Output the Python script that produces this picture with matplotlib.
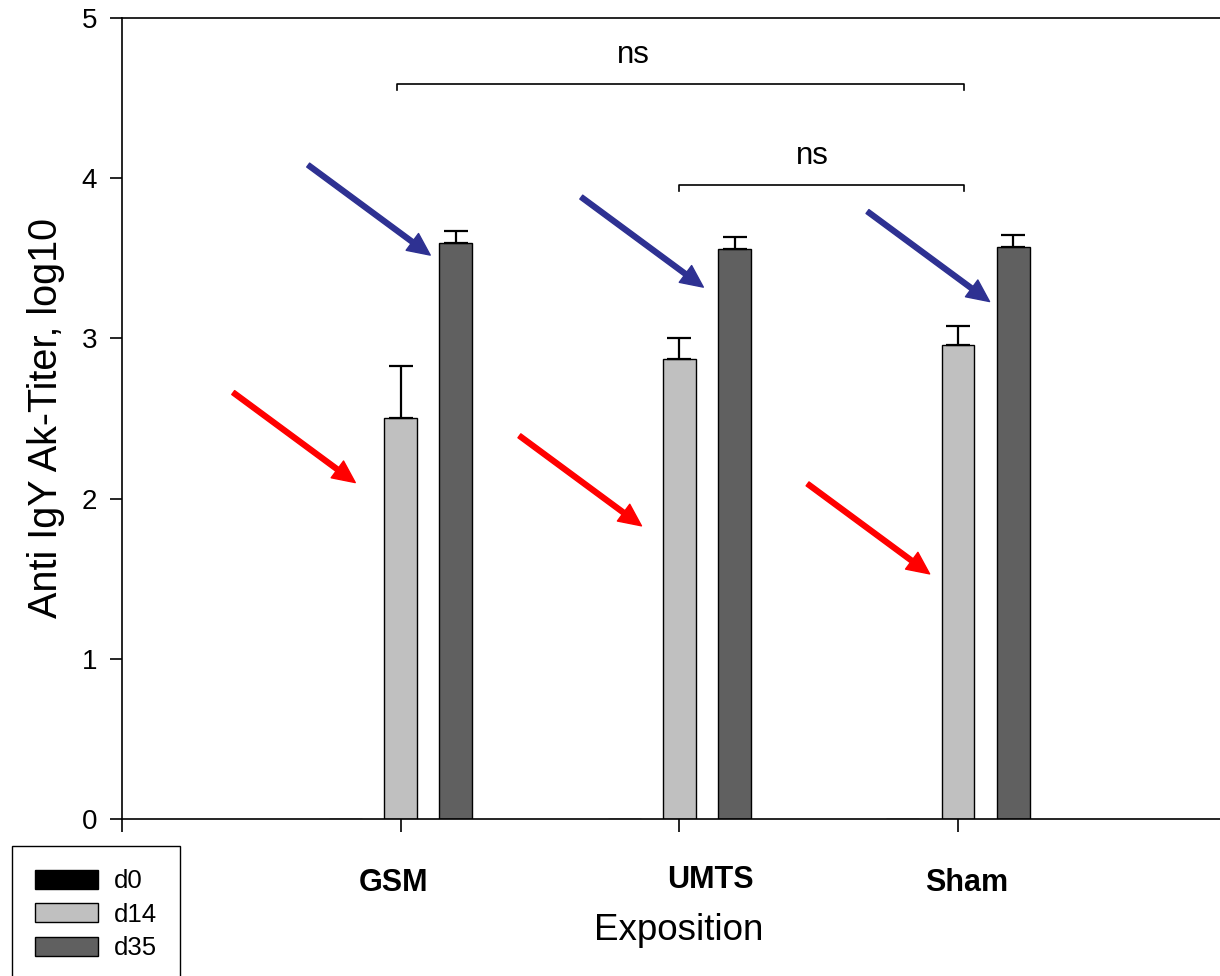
import numpy as np
import matplotlib
matplotlib.use("Agg")
import matplotlib.pyplot as plt
import matplotlib.transforms as mtransforms
from matplotlib.patches import Patch

plt.rcParams['font.family'] = ['Liberation Sans', 'DejaVu Sans']

groups = ['GSM', 'UMTS', 'Sham']
series = ['d0', 'd14', 'd35']
d0 = [0.0, 0.0, 0.0]
d14 = [2.50, 2.87, 2.96]
d14_err = [0.33, 0.13, 0.12]
d35 = [3.595, 3.555, 3.57]
d35_err = [0.075, 0.075, 0.075]

# arrow tips (x, y) in data units
blue_tips = [(1.106, 3.52), (2.086, 3.32), (3.113, 3.23)]
red_tips = [(0.837, 2.10), (1.864, 1.83), (2.898, 1.53)]

fig = plt.figure(figsize=(12.2, 9.76), dpi=100)
ax = fig.add_axes([122/1220, (976-819)/976, (1220-122)/1220, (819-18)/976])

x = np.arange(1, len(groups)+1)
w = 0.118
off = 0.198
ekw = dict(elinewidth=1.6, capsize=8.5, capthick=1.6, ecolor='black')
ax.bar(x - off, d0, w, color='black', edgecolor='black', lw=1.0)
ax.bar(x, d14, w, color='#c0c0c0', edgecolor='black', lw=1.0)
ax.errorbar(x, d14, yerr=[np.zeros(3), d14_err], fmt='none', **ekw)
ax.bar(x + off, d35, w, color='#606060', edgecolor='black', lw=1.0)
ax.errorbar(x + off, d35, yerr=[np.zeros(3), d35_err], fmt='none', **ekw)

# arrows
for tips, c in [(blue_tips, '#2e3192'), (red_tips, '#ff0000')]:
    for tx, ty in tips:
        ax.annotate('', xy=(tx, ty), xytext=(tx - 0.438, ty + 0.562),
                    arrowprops=dict(width=3.5, headwidth=15, headlength=16,
                                    color=c, shrink=0))

# significance brackets
def bracket(x1, x2, y, tx, txt):
    h = 0.04
    ax.plot([x1, x1, x2, x2], [y - h, y, y, y - h], color='black', lw=1.2, clip_on=False)
    ax.text(tx, y + 0.13, txt, ha='center', va='baseline', fontsize=22.5)

bracket(0.987, 3.02, 4.59, 1.835, 'ns')
bracket(2.0, 3.02, 3.96, 2.478, 'ns')

ax.set_xlim(0, 3.94)
ax.set_ylim(0, 5)
ax.set_xticks([0, 1, 2, 3])
ax.set_xticklabels([])
# group labels sit a bit off their ticks in the original
trans = mtransforms.blended_transform_factory(ax.transData, ax.transAxes)
for xi, g, dx, yy in zip(x, groups, [-0.025, 0.111, 0.032], [-0.0795, -0.0765, -0.0795]):
    ax.text(xi + dx, yy, g, transform=trans, ha='center', va='center',
            fontsize=22, fontweight='bold')
ax.set_yticks(range(6))
ax.tick_params(axis='y', direction='out', length=9, width=1.2, labelsize=20, pad=9)
ax.tick_params(axis='x', direction='out', length=9, width=1.2)
ax.spines['right'].set_visible(False)
for s in ['left', 'top', 'bottom']:
    ax.spines[s].set_linewidth(1.2)

ax.set_ylabel('Anti IgY Ak-Titer, log10', fontsize=28.5, labelpad=12)
ax.set_xlabel('Exposition', fontsize=26.5)
ax.xaxis.set_label_coords((679-122)/1098, -(930-819)/801)
ax.xaxis.label.set_va('center')

handles = [Patch(facecolor=c, edgecolor='black', lw=1.0) for c in ['black', '#c0c0c0', '#606060']]
leg = fig.legend(handles, series, loc='upper left', bbox_to_anchor=(12/1220, (976-846)/976),
                 fontsize=18.5, handlelength=2.45, handleheight=0.78, labelspacing=0.37,
                 borderpad=0.9, borderaxespad=0, handletextpad=0.6, fancybox=False,
                 framealpha=1)
leg.get_frame().set_edgecolor('black')
leg.get_frame().set_linewidth(1.0)

fig.savefig('out.png', dpi=100)
